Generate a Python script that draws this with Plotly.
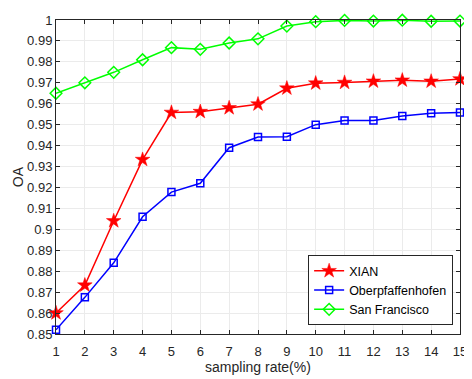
import plotly.graph_objects as go

x_rates = list(range(1, 16))
xian = [0.860, 0.8733, 0.904, 0.9333, 0.9558, 0.9562, 0.958, 0.9598, 0.9674, 0.9698, 0.9701, 0.9707, 0.9712, 0.9707, 0.9718]
oberpf = [0.852, 0.8675, 0.884, 0.906, 0.9178, 0.922, 0.939, 0.9441, 0.9442, 0.950, 0.952, 0.952, 0.9541, 0.9555, 0.9558]
sanfran = [0.965, 0.970, 0.975, 0.981, 0.9868, 0.986, 0.989, 0.991, 0.9971, 0.9992, 0.9998, 0.9995, 0.9999, 0.9994, 0.9995]
y_ticks = [0.85 + 0.01 * i for i in range(16)]
y_ticktext = ["0.85", "0.86", "0.87", "0.88", "0.89", "0.9", "0.91", "0.92", "0.93", "0.94",
              "0.95", "0.96", "0.97", "0.98", "0.99", "1"]

font_fam = "Liberation Sans, Arial, Helvetica, sans-serif"
tick_col = "#262626"

fig = go.Figure()
fig.add_trace(go.Scatter(x=x_rates, y=xian, name="XIAN", mode="lines+markers", cliponaxis=False,
                         line=dict(color="#ff0000", width=1.5),
                         marker=dict(symbol="star", size=11, color="#ff0000",
                                     line=dict(color="#ff0000", width=0.5))))
fig.add_trace(go.Scatter(x=x_rates, y=oberpf, name="Oberpfaffenhofen", mode="lines+markers", cliponaxis=False,
                         line=dict(color="#0000ff", width=1.5),
                         marker=dict(symbol="square-open", size=7, color="#0000ff",
                                     line=dict(color="#0000ff", width=1.5))))
fig.add_trace(go.Scatter(x=x_rates, y=sanfran, name="San Francisco", mode="lines+markers", cliponaxis=False,
                         line=dict(color="#00ff00", width=1.5),
                         marker=dict(symbol="diamond-open", size=9, color="#00ff00",
                                     line=dict(color="#00ff00", width=1.5))))

axis_common = dict(showline=True, linecolor=tick_col, linewidth=1, mirror="ticks",
                   ticks="inside", ticklen=4, tickcolor=tick_col,
                   showgrid=True, gridcolor="#ebebeb", gridwidth=1, zeroline=False,
                   ticklabeloverflow="allow",
                   tickfont=dict(family=font_fam, size=13, color=tick_col))

# The page body adds an 8px margin, so the figure is sized to the visible area.
fig.update_layout(
    width=464, height=371,
    margin=dict(l=48, r=7, t=5, b=45),
    paper_bgcolor="white", plot_bgcolor="white",
    font=dict(family=font_fam, color=tick_col),
    xaxis=dict(range=[1, 15], tickvals=x_rates, ticklabelstandoff=5,
               title=dict(text="sampling rate(%)", font=dict(family=font_fam, size=14, color=tick_col), standoff=2),
               **axis_common),
    yaxis=dict(range=[0.85, 1.0], tickvals=y_ticks, ticktext=y_ticktext,
               title=dict(text="OA", font=dict(family=font_fam, size=14, color=tick_col), standoff=0),
               **axis_common),
    legend=dict(x=0.983, y=0.028, xanchor="right", yanchor="bottom",
                bgcolor="white", bordercolor=tick_col, borderwidth=1,
                font=dict(family=font_fam, size=12.5, color="#000000"),
                tracegroupgap=0, itemwidth=30),
    showlegend=True,
)

fig.write_html("out.html")
